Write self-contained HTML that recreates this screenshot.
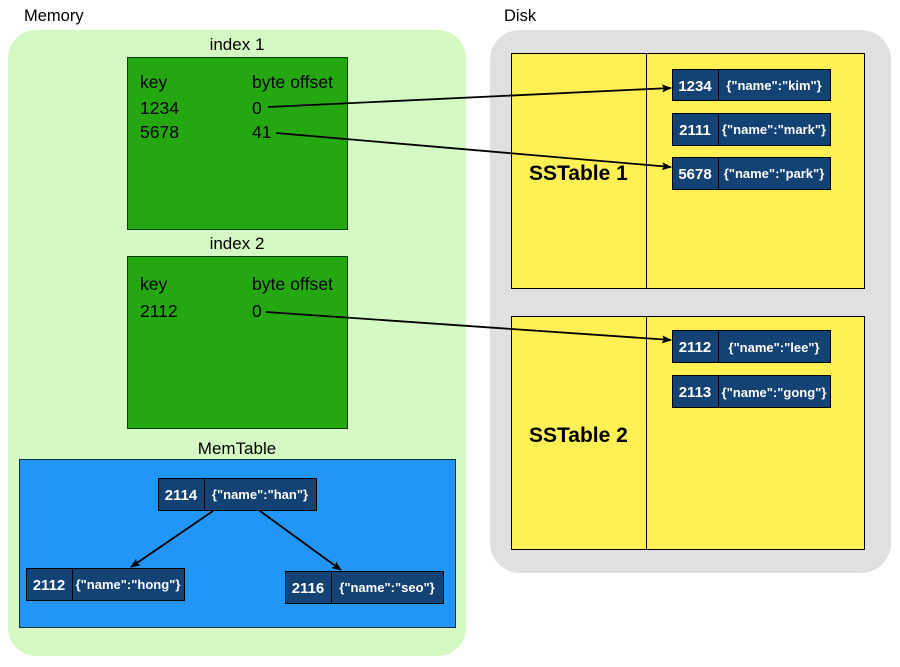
<!DOCTYPE html>
<html><head><meta charset="utf-8"><style>html,body{margin:0;padding:0;background:#fff}svg{display:block}</style></head><body>
<svg width="900" height="667" viewBox="0 0 900 667" xmlns="http://www.w3.org/2000/svg" font-family="Liberation Sans, sans-serif">
<defs><marker id="a" markerWidth="10" markerHeight="8" refX="9" refY="4" orient="auto" markerUnits="userSpaceOnUse"><path d="M0,0 L10,4 L0,8 L2,4 z" fill="#000"/></marker></defs>
<text x="24" y="21" font-size="16.5">Memory</text>
<text x="504" y="21" font-size="16.5">Disk</text>
<rect x="8" y="30" width="458" height="626" rx="28" fill="#d5f9c3"/>
<rect x="490" y="30" width="401" height="543" rx="30" fill="#e0e0e0"/>
<text x="237" y="50" font-size="17" text-anchor="middle">index 1</text>
<rect x="127.5" y="57.5" width="220" height="172" fill="#25a712" stroke="#0b3d06"/>
<g font-size="17.5"><text x="140" y="88">key</text><text x="252" y="88" textLength="81">byte offset</text>
<text x="140" y="114">1234</text><text x="252" y="114">0</text>
<text x="140" y="138">5678</text><text x="252" y="138">41</text></g>
<text x="237" y="249" font-size="17" text-anchor="middle">index 2</text>
<rect x="127.5" y="256.5" width="220" height="172" fill="#25a712" stroke="#0b3d06"/>
<g font-size="17.5"><text x="140" y="290">key</text><text x="252" y="290" textLength="81">byte offset</text>
<text x="140" y="317">2112</text><text x="252" y="317">0</text></g>
<text x="237" y="454" font-size="17" text-anchor="middle">MemTable</text>
<rect x="19.5" y="459.5" width="436" height="168" fill="#2196f7" stroke="#0b2a4a"/>
<g stroke="#000" fill="none" stroke-width="1">
<rect x="511.5" y="53.5" width="353" height="235" fill="#fff056"/><line x1="646.5" y1="53" x2="646.5" y2="288"/>
<rect x="511.5" y="316.5" width="353" height="233" fill="#fff056"/><line x1="646.5" y1="316" x2="646.5" y2="549"/>
</g>
<g font-size="21" font-weight="bold"><text x="529" y="180">SSTable 1</text><text x="529" y="442">SSTable 2</text></g>
<g fill="#fff" font-weight="bold">
<g stroke="#000"><rect x="672.5" y="69.5" width="158" height="31" fill="#134274"/><line x1="718.5" y1="69" x2="718.5" y2="101"/>
<rect x="672.5" y="113.5" width="158" height="32" fill="#134274"/><line x1="718.5" y1="113" x2="718.5" y2="146"/>
<rect x="672.5" y="157.5" width="158" height="32" fill="#134274"/><line x1="718.5" y1="157" x2="718.5" y2="190"/>
<rect x="672.5" y="330.5" width="158" height="32" fill="#134274"/><line x1="718.5" y1="330" x2="718.5" y2="363"/>
<rect x="672.5" y="375.5" width="158" height="32" fill="#134274"/><line x1="718.5" y1="375" x2="718.5" y2="408"/>
<rect x="158.5" y="478.5" width="158" height="32" fill="#134274"/><line x1="204.5" y1="478" x2="204.5" y2="511"/>
<rect x="26.5" y="568.5" width="158" height="32" fill="#134274"/><line x1="72.5" y1="568" x2="72.5" y2="601"/>
<rect x="285.5" y="571.5" width="158" height="32" fill="#134274"/><line x1="331.5" y1="571" x2="331.5" y2="604"/></g>
<g font-size="15"><text x="695" y="91" text-anchor="middle">1234</text><text x="695" y="135" text-anchor="middle">2111</text><text x="695" y="179" text-anchor="middle">5678</text><text x="695" y="352" text-anchor="middle">2112</text><text x="695" y="397" text-anchor="middle">2113</text>
<text x="181" y="500" text-anchor="middle">2114</text><text x="49" y="590" text-anchor="middle">2112</text><text x="308" y="593" text-anchor="middle">2116</text></g>
<g font-size="13" text-anchor="middle"><text x="774" y="90">{"name":"kim"}</text><text x="774" y="134">{"name":"mark"}</text><text x="774" y="178">{"name":"park"}</text><text x="774" y="352">{"name":"lee"}</text><text x="774" y="397">{"name":"gong"}</text>
<text x="260" y="499">{"name":"han"}</text><text x="128" y="589">{"name":"hong"}</text><text x="387" y="592">{"name":"seo"}</text></g>
</g>
<g stroke="#000" stroke-width="1.8" fill="none" marker-end="url(#a)">
<line x1="268" y1="107" x2="671" y2="88"/>
<line x1="276" y1="133" x2="671" y2="167"/>
<line x1="266" y1="312" x2="671" y2="340"/>
<line x1="213" y1="511" x2="131" y2="567"/>
<line x1="260" y1="511" x2="341" y2="570"/>
</g>
</svg>
</body></html>
